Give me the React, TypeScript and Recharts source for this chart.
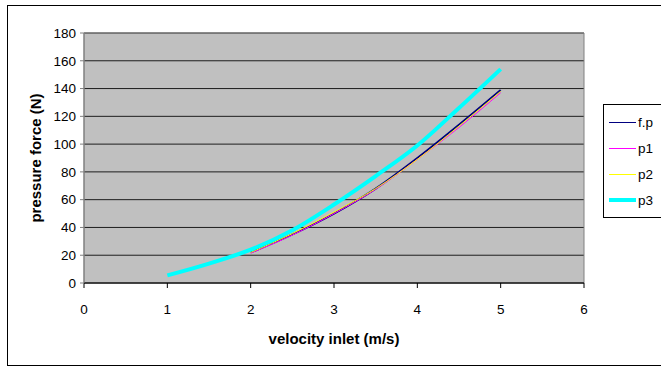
import { LineChart, Line, XAxis, YAxis, CartesianGrid, ReferenceArea } from 'recharts';

// velocity inlet (m/s) -> pressure force (N)
const velocityFp = [2, 2.5, 3, 3.5, 4, 4.5, 5];
const forceFp = [22, 35, 50, 68, 90, 114, 139];
const forceP1 = [21.5, 34.5, 50, 67.5, 89, 112, 137];
const forceP2 = [22, 35.5, 51, 68, 89, 113, 138];
const velocityP3 = [1, 1.5, 2, 2.5, 3, 3.5, 4, 4.5, 5];
const forceP3 = [5.5, 14, 24, 38, 56.5, 77, 99, 126, 154];

const xTicks = [0, 1, 2, 3, 4, 5, 6];
const yTicks = [0, 20, 40, 60, 80, 100, 120, 140, 160, 180];

const toPoints = (xs: number[], ys: number[]) => xs.map((x, i) => ({ x, y: ys[i] }));

const series = [
  { name: 'f.p', color: '#000080', width: 2, legendWidth: 1.5, data: toPoints(velocityFp, forceFp) },
  { name: 'p1', color: '#ff00ff', width: 1, legendWidth: 1.5, data: toPoints(velocityFp, forceP1) },
  { name: 'p2', color: '#ffff00', width: 1, legendWidth: 1.5, data: toPoints(velocityFp, forceP2) },
  { name: 'p3', color: '#00ffff', width: 4, legendWidth: 4, data: toPoints(velocityP3, forceP3) },
];

const font = "'Liberation Sans', Arial, sans-serif";
const titleStyle = { fontWeight: 'bold', fontSize: 15, fontFamily: font, fill: '#000' };

const LegendBox = () => (
  <div style={{ position: 'absolute', left: 603, top: 104, border: '1px solid #000', background: '#fff', width: 70, padding: '4px 0 4px 5px', boxSizing: 'border-box' }}>
    {series.map((s) => (
      <div key={s.name} style={{ display: 'flex', alignItems: 'center', height: 26, fontSize: 13.5, fontFamily: font, color: '#000' }}>
        <span style={{ display: 'inline-block', width: 27, height: 0, borderTop: `${s.legendWidth}px solid ${s.color}`, marginRight: 2 }} />
        {s.name}
      </div>
    ))}
  </div>
);

export default function App() {
  return (
    <div style={{ position: 'absolute', left: 0, top: 0, width: 661, height: 367, overflow: 'hidden', background: '#fff' }}>
      <div style={{ position: 'absolute', left: 7, top: 5, width: 700, height: 359, border: '1px solid #000' }} />
      <div style={{ position: 'absolute', left: 0, top: 0 }}>
        <LineChart width={661} height={367} margin={{ top: 33, right: 77, left: 20, bottom: 22 }}>
          <CartesianGrid horizontal vertical={false} fill="#c0c0c0" stroke="#000" strokeOpacity={0.85} />
          <ReferenceArea x1={0} x2={6} y1={0} y2={180} fill="none" stroke="#808080" strokeWidth={1} ifOverflow="visible" />
          <XAxis
            type="number"
            dataKey="x"
            domain={[0, 6]}
            ticks={xTicks}
            interval={0}
            allowDataOverflow
            height={62}
            tickSize={5}
            tickMargin={16}
            stroke="#000"
            tick={{ fill: '#000', fontSize: 13.5, fontFamily: font }}
            label={{ value: 'velocity inlet (m/s)', position: 'insideBottom', offset: 1, style: titleStyle }}
          />
          <YAxis
            type="number"
            domain={[0, 180]}
            ticks={yTicks}
            interval={0}
            width={64}
            tickSize={4}
            tickMargin={4}
            stroke="#808080"
            tick={{ fill: '#000', fontSize: 13.5, fontFamily: font }}
            label={{ value: 'pressure force (N)', angle: -90, position: 'insideLeft', offset: 16, style: { ...titleStyle, textAnchor: 'middle' } }}
          />
          {series.map((s) => (
            <Line
              key={s.name}
              name={s.name}
              data={s.data}
              dataKey="y"
              type="monotone"
              stroke={s.color}
              strokeWidth={s.width}
              dot={false}
              activeDot={false}
              isAnimationActive={false}
            />
          ))}
        </LineChart>
      </div>
      <LegendBox />
    </div>
  );
}
